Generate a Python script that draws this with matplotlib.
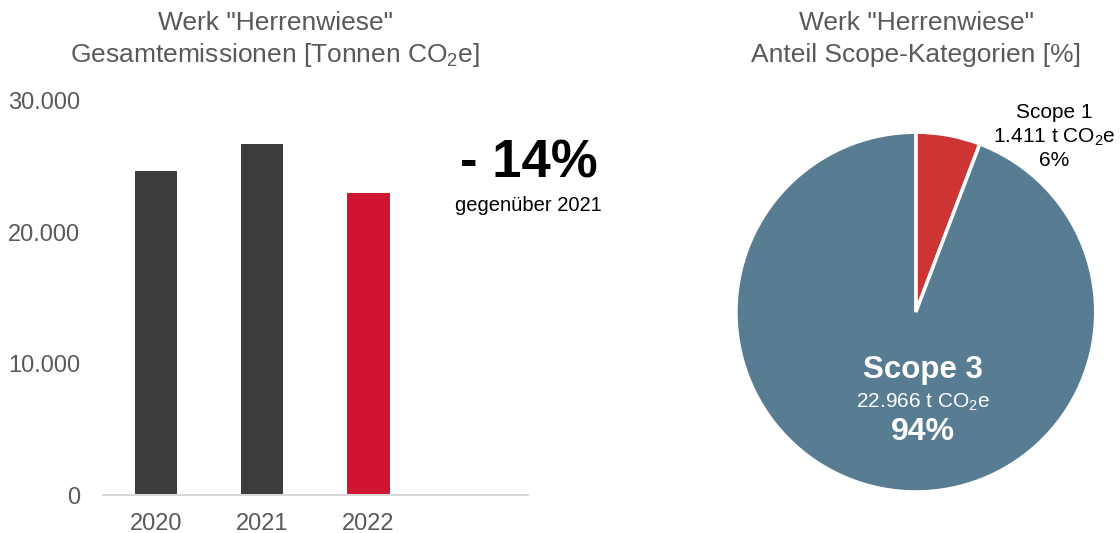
import numpy as np
import matplotlib
matplotlib.use("Agg")
import matplotlib.pyplot as plt

plt.rcParams['font.family'] = ['Liberation Sans', 'DejaVu Sans']
plt.rcParams['mathtext.fontset'] = 'custom'
plt.rcParams['mathtext.rm'] = 'Liberation Sans'
plt.rcParams['mathtext.default'] = 'regular'

# data
years = ["2020", "2021", "2022", ""]
totals = [24650, 26700, 23000, np.nan]
bar_colors = ["#3c3c3b", "#3c3c3b", "#cf1530", "#ffffff"]

scopes = ["Scope 1", "Scope 3"]
scope_tonnes = [1411, 22966]
scope_tonnes_txt = ["1.411", "22.966"]
scope_colors = ["#cd3434", "#587d92"]

change_txt = "- 14%"
change_sub = "gegenüber 2021"

grey = "#595959"

fig = plt.figure(figsize=(11.2, 5.33), dpi=100)

# -----------------------------
# bar chart
# -----------------------------
ax = fig.add_axes([0.092, 0.071, 0.379, 0.74])
x = np.arange(len(years))
ax.bar(x, totals, width=0.4, color=bar_colors)
ax.set_xlim(-0.5, 3.5)
ax.set_ylim(0, 30000)
ax.set_yticks([0, 10000, 20000, 30000])
ax.set_yticklabels(["0", "10.000", "20.000", "30.000"])
ax.set_xticks(x[:3])
ax.set_xticklabels(years[:3])
ax.tick_params(length=0, labelsize=17, colors=grey)
ax.tick_params(axis="y", pad=16.5)
ax.tick_params(axis="x", pad=13)
for s in ["top", "right", "left"]:
    ax.spines[s].set_visible(False)
ax.spines["bottom"].set_color("#d9d9d9")
ax.spines["bottom"].set_linewidth(1.5)

fig.text(0.246, 0.957, 'Werk "Herrenwiese"', ha="center", va="center",
         fontsize=19, color=grey)
fig.text(0.246, 0.897, 'Gesamtemissionen [Tonnen CO$_2$e]', ha="center",
         va="center", fontsize=19, color=grey)

fig.text(0.534, 0.694, change_txt, ha="right", va="center", fontsize=38,
         fontweight="bold", color="black")
fig.text(0.537, 0.615, change_sub, ha="right", va="center", fontsize=14.5,
         color="black")

# -----------------------------
# pie chart
# -----------------------------
pax = fig.add_axes([0.657, 0.077, 0.3214, 0.675])
pax.pie(scope_tonnes, colors=scope_colors, startangle=90, counterclock=False,
        wedgeprops=dict(edgecolor="white", linewidth=2.5), radius=1)
pax.set_xlim(-1, 1)
pax.set_ylim(-1, 1)
pax.set_aspect("equal")
pax.axis("off")

total = sum(scope_tonnes)
pct = [round(v / total * 100) for v in scope_tonnes]

pax.text(0.77, 1.11, scopes[0], ha="center", va="center", fontsize=15,
         color="black", clip_on=False)
pax.text(0.77, 0.97, scope_tonnes_txt[0] + " t CO$_2$e", ha="center",
         va="center", fontsize=15, color="black", clip_on=False)
pax.text(0.77, 0.84, f"{pct[0]}%", ha="center", va="center", fontsize=15,
         color="black", clip_on=False)

pax.text(0.04, -0.32, scopes[1], ha="center", va="center", fontsize=22.5,
         fontweight="bold", color="white")
pax.text(0.04, -0.5, scope_tonnes_txt[1] + " t CO$_2$e", ha="center",
         va="center", fontsize=15, color="white")
pax.text(0.04, -0.667, f"{pct[1]}%", ha="center", va="center", fontsize=23,
         fontweight="bold", color="white")

fig.text(0.818, 0.957, 'Werk "Herrenwiese"', ha="center", va="center",
         fontsize=19, color=grey)
fig.text(0.818, 0.897, 'Anteil Scope-Kategorien [%]', ha="center",
         va="center", fontsize=19, color=grey)

fig.savefig("out.png", dpi=100)
